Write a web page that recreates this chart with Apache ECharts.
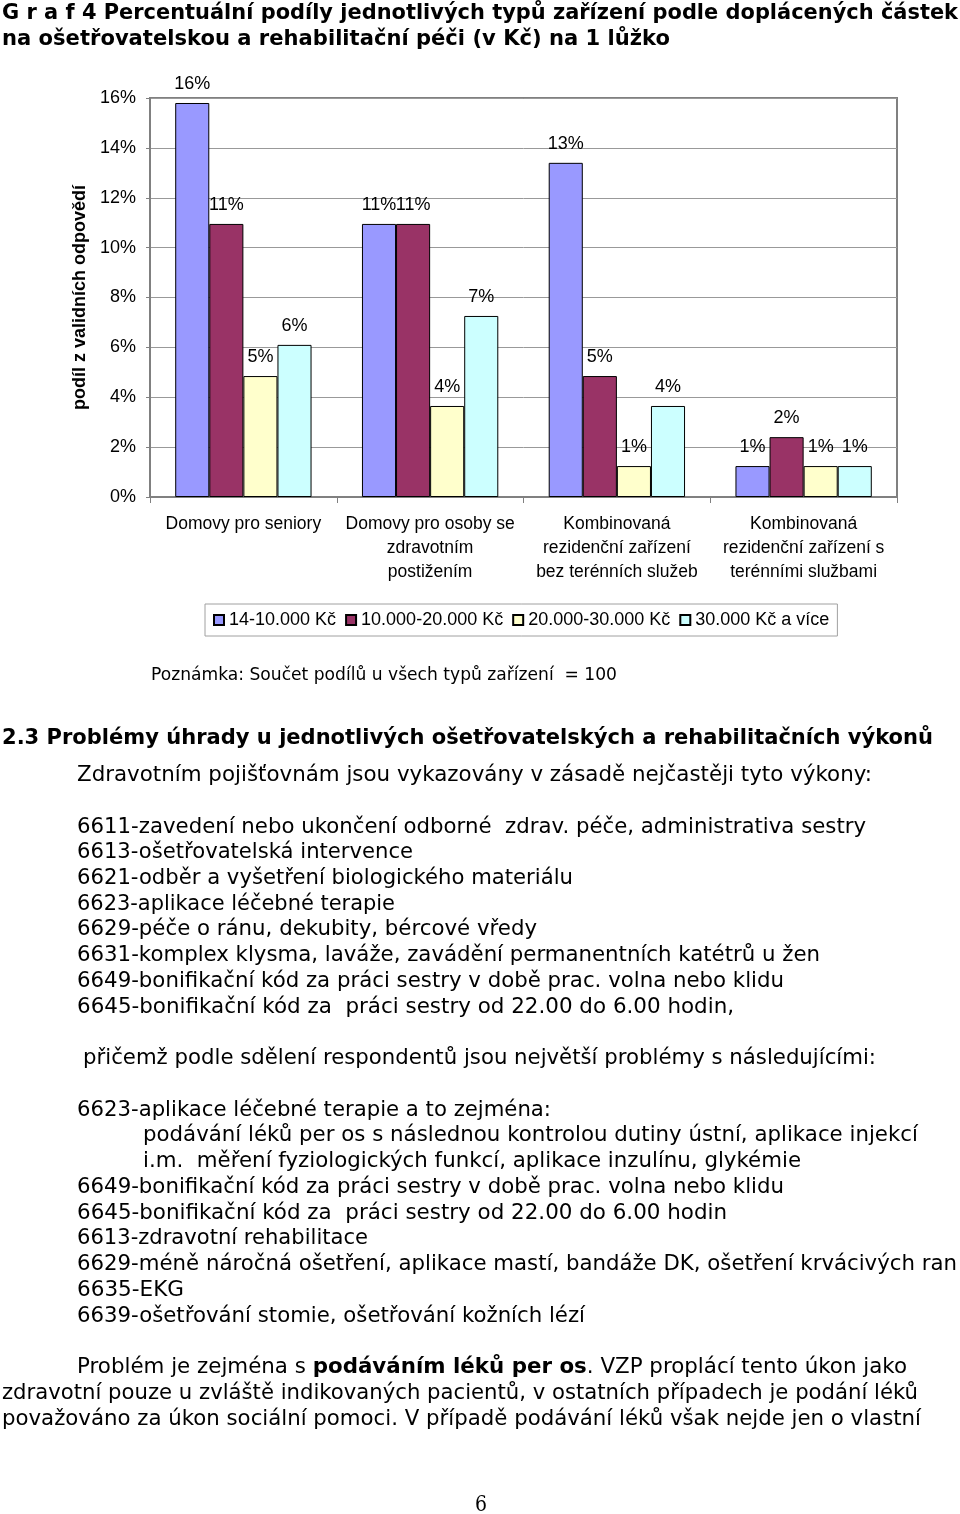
<!DOCTYPE html>
<html>
<head>
<meta charset="utf-8">
<script src="https://cdn.jsdelivr.net/npm/echarts@6/dist/echarts.min.js"></script>
<style>
html,body{margin:0;padding:0;background:#fff;}
#page{position:relative;width:960px;height:1514px;overflow:hidden;background:#fff;}
#chart{position:absolute;left:0;top:0;width:960px;height:1514px;}
.ln{position:absolute;white-space:pre;color:#000;transform-origin:0 50%;}
</style>
</head>
<body>
<div id="page"><div id="chart"></div></div>
<script>
// ---- chart data ----
const categories = [
  'Domovy pro seniory',
  'Domovy pro osoby se\nzdravotním\npostižením',
  'Kombinovaná\nrezidenční zařízení\nbez terénních služeb',
  'Kombinovaná\nrezidenční zařízení s\nterénními službami'
];
const seriesNames = ['14-10.000 Kč', '10.000-20.000 Kč', '20.000-30.000 Kč', '30.000 Kč a více'];
const s1 = [15.8, 10.95, 13.4, 1.24];
const s2 = [10.95, 10.95, 4.85, 2.4];
const s3 = [4.85, 3.65, 1.24, 1.24];
const s4 = [6.1, 7.26, 3.65, 1.24];
const yTicks = { min: 0, max: 16, interval: 2 };
const colors = ['#9999FF', '#993366', '#FFFFCC', '#CCFFFF'];

const font = "'Liberation Sans', Arial, sans-serif";
const chart = echarts.init(document.getElementById('chart'), null, { renderer: 'canvas' });
const mk = (name, data, color) => ({
  name, type: 'bar', data, barGap: '0%', barCategoryGap: '27%',
  itemStyle: { color, borderColor: '#000', borderWidth: 1 },
  label: { show: true, position: 'top', distance: 10, color: '#000', fontFamily: font, fontSize: 18,
           formatter: p => Math.round(p.value) + '%' }
});
chart.setOption({
  animation: false,
  grid: { left: 150, top: 98, right: 63, bottom: 1017, show: true, borderColor: '#808080', borderWidth: 2 },
  legend: {
    left: 205, top: 604, padding: [7, 8], itemGap: 9, itemWidth: 10, itemHeight: 10,
    icon: 'rect', borderColor: '#a0a0a0', borderWidth: 1,
    textStyle: { color: '#000', fontFamily: font, fontSize: 18 },
    data: seriesNames
  },
  xAxis: {
    type: 'category', data: categories,
    axisLine: { lineStyle: { color: '#808080', width: 1 } },
    axisTick: { show: true, length: 6, lineStyle: { color: '#808080' } },
    axisLabel: { interval: 0, color: '#000', fontFamily: font, fontSize: 17.5, lineHeight: 24, margin: 15 }
  },
  yAxis: {
    type: 'value', min: yTicks.min, max: yTicks.max, interval: yTicks.interval,
    name: 'podíl z validních odpovědí', nameLocation: 'middle', nameGap: 60,
    nameTextStyle: { color: '#000', fontFamily: font, fontSize: 18, fontWeight: 'bold' },
    axisLine: { show: true, lineStyle: { color: '#808080' } },
    axisTick: { show: true, length: 4, lineStyle: { color: '#808080' } },
    splitLine: { lineStyle: { color: '#999' } },
    axisLabel: { formatter: '{value}%', color: '#000', fontFamily: font, fontSize: 18, margin: 14 }
  },
  series: [mk(seriesNames[0], s1, colors[0]), mk(seriesNames[1], s2, colors[1]),
           mk(seriesNames[2], s3, colors[2]), mk(seriesNames[3], s4, colors[3])]
});

// ---- page text ----
const sans = "'DejaVu Sans', Verdana, sans-serif";
const textLines = [
  { t: 'G r a f 4 Percentuální podíly jednotlivých typů zařízení podle doplácených částek', x: 2, r: 958, y: 12, s: 22, b: true },
  { t: 'na ošetřovatelskou a rehabilitační péči (v Kč) na 1 lůžko', x: 2, r: 670, y: 38, s: 22, b: true },
  { t: 'Poznámka: Součet podílů u všech typů zařízení  = 100', x: 151, r: 617, y: 674, s: 17 },
  { t: '2.3 Problémy úhrady u jednotlivých ošetřovatelských a rehabilitačních výkonů', x: 2, r: 933, y: 737, s: 22, b: true },
  { t: 'Zdravotním pojišťovnám jsou vykazovány v zásadě nejčastěji tyto výkony:', x: 77, r: 872, y: 774, s: 21 },
  { t: '6611-zavedení nebo ukončení odborné  zdrav. péče, administrativa sestry', x: 77, r: 866, y: 826, s: 21 },
  { t: '6613-ošetřovatelská intervence', x: 77, r: 413, y: 851, s: 21 },
  { t: '6621-odběr a vyšetření biologického materiálu', x: 77, r: 573, y: 877, s: 21 },
  { t: '6623-aplikace léčebné terapie', x: 77, r: 395, y: 903, s: 21 },
  { t: '6629-péče o ránu, dekubity, bércové vředy', x: 77, r: 537, y: 928, s: 21 },
  { t: '6631-komplex klysma, laváže, zavádění permanentních katétrů u žen', x: 77, r: 820, y: 954, s: 21 },
  { t: '6649-bonifikační kód za práci sestry v době prac. volna nebo klidu', x: 77, r: 784, y: 980, s: 21 },
  { t: '6645-bonifikační kód za  práci sestry od 22.00 do 6.00 hodin,', x: 77, r: 734, y: 1006, s: 21 },
  { t: 'přičemž podle sdělení respondentů jsou největší problémy s následujícími:', x: 83, r: 876, y: 1057, s: 21 },
  { t: '6623-aplikace léčebné terapie a to zejména:', x: 77, r: 551, y: 1109, s: 21 },
  { t: 'podávání léků per os s následnou kontrolou dutiny ústní, aplikace injekcí', x: 143, r: 918, y: 1134, s: 21 },
  { t: 'i.m.  měření fyziologických funkcí, aplikace inzulínu, glykémie', x: 143, r: 801, y: 1160, s: 21 },
  { t: '6649-bonifikační kód za práci sestry v době prac. volna nebo klidu', x: 77, r: 784, y: 1186, s: 21 },
  { t: '6645-bonifikační kód za  práci sestry od 22.00 do 6.00 hodin', x: 77, r: 727, y: 1212, s: 21 },
  { t: '6613-zdravotní rehabilitace', x: 77, r: 368, y: 1237, s: 21 },
  { t: '6629-méně náročná ošetření, aplikace mastí, bandáže DK, ošetření krvácivých ran', x: 77, r: 957, y: 1263, s: 21 },
  { t: '6635-EKG', x: 77, r: 184, y: 1289, s: 21 },
  { t: '6639-ošetřování stomie, ošetřování kožních lézí', x: 77, r: 585, y: 1315, s: 21 },
  { h: 'Problém je zejména s <b>podáváním léků per os</b>. VZP proplácí tento úkon jako', x: 77, r: 907, y: 1366, s: 21 },
  { t: 'zdravotní pouze u zvláště indikovaných pacientů, v ostatních případech je podání léků', x: 2, r: 918, y: 1392, s: 21 },
  { t: 'považováno za úkon sociální pomoci. V případě podávání léků však nejde jen o vlastní', x: 2, r: 921, y: 1418, s: 21 },
  { t: '6', x: 475, r: 487, y: 1503, s: 23, serif: true }
];
const page = document.getElementById('page');
textLines.forEach(L => {
  const d = document.createElement('div');
  d.className = 'ln';
  if (L.h) d.innerHTML = L.h; else d.textContent = L.t;
  d.style.fontFamily = L.serif ? "'DejaVu Serif', 'Liberation Serif', serif" : sans;
  d.style.fontSize = L.s + 'px';
  d.style.lineHeight = L.s + 'px';
  d.style.fontWeight = L.b ? 'bold' : 'normal';
  d.style.left = L.x + 'px';
  d.style.top = (L.y - L.s * 0.5) + 'px';
  page.appendChild(d);
  const w = d.getBoundingClientRect().width;
  if (w > 0) d.style.transform = 'scaleX(' + ((L.r - L.x) / w).toFixed(4) + ')';
});
</script>
</body>
</html>
